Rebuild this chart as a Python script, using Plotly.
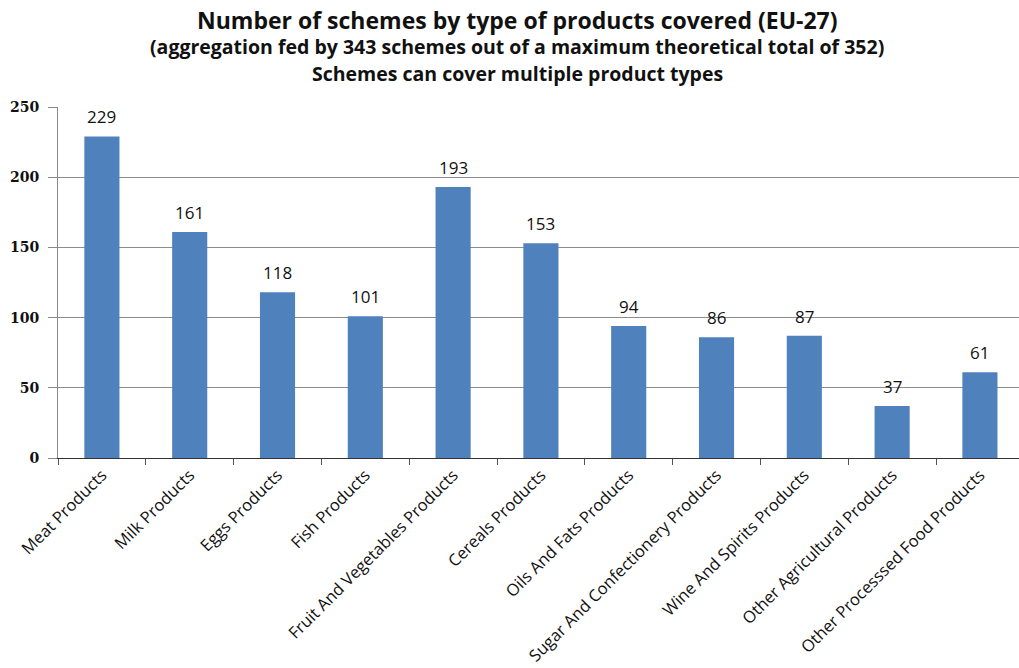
import plotly.graph_objects as go

categories = [
    "Meat Products", "Milk Products", "Eggs Products", "Fish Products",
    "Fruit And Vegetables Products", "Cereals Products", "Oils And Fats Products",
    "Sugar And Confectionery Products", "Wine And Spirits Products",
    "Other Agricultural Products", "Other Processsed Food Products",
]
values = [229, 161, 118, 101, 193, 153, 94, 86, 87, 37, 61]
y_ticks = [0, 50, 100, 150, 200, 250]

title_lines = [
    "Number of schemes by type of products covered (EU-27)",
    "(aggregation fed by 343 schemes out of a maximum theoretical total of 352)",
    "Schemes can cover multiple product types",
]

FONT = "Open Sans"
W, H = 1019, 668
M_L, M_R, M_T, M_B = 58, 0, 107, 210
plot_h = H - M_T - M_B
plot_w = W - M_L - M_R

fig = go.Figure(go.Bar(
    x=categories, y=values,
    marker=dict(color="#4F81BD", line=dict(width=0)),
    width=0.4,
    hoverinfo="x+y",
))

annotations = []
for ln, ypx, sz in zip(title_lines, [20, 47, 73], [23, 19.5, 19.5]):
    annotations.append(dict(
        text="<b>%s</b>" % ln, x=(517 - M_L) / plot_w, y=(H - M_B - ypx) / plot_h,
        xref="paper", yref="paper", showarrow=False, yanchor="middle",
        font=dict(family=FONT, size=sz, color="#111111"),
    ))
for c, v in zip(categories, values):
    annotations.append(dict(
        text=str(v), x=c, y=v, xref="x", yref="y", showarrow=False,
        yanchor="bottom", yshift=6,
        font=dict(family=FONT, size=17, color="#111111"),
    ))

fig.update_layout(
    width=W, height=H,
    margin=dict(l=M_L, r=M_R, t=M_T, b=M_B),
    paper_bgcolor="white", plot_bgcolor="white",
    showlegend=False,
    annotations=annotations,
)

fig.update_xaxes(
    type="category",
    range=[-0.5, 10.445],
    tickangle=-45,
    automargin=False,
    tickfont=dict(family=FONT, size=16.5, color="#111111"),
    showline=True, linecolor="#333333", linewidth=1,
    ticks="outside", tickson="boundaries", ticklen=6, tickcolor="#555555",
    showgrid=False,
)
fig.update_yaxes(
    range=[0, 250],
    tickvals=y_ticks,
    automargin=False,
    tickfont=dict(family="DejaVu Serif", size=14, color="#111111", weight="bold"),
    ticklabelstandoff=6,
    showline=True, linecolor="#888888", linewidth=1,
    ticks="outside", ticklen=9, tickcolor="#888888",
    showgrid=True, gridcolor="#8c8c8c", gridwidth=1,
    zeroline=False,
)

fig.write_html("out.html")
